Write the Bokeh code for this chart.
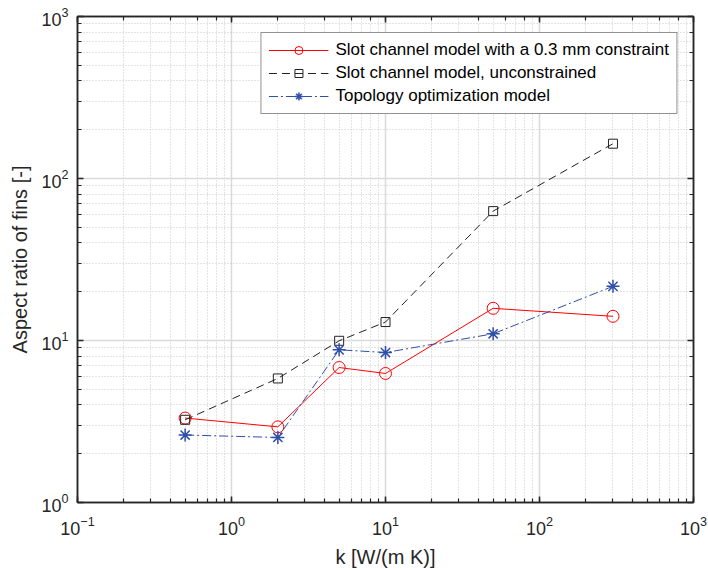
from bokeh.plotting import figure
from bokeh.models import LogAxis, LogTicker
from bokeh.embed import file_html
from bokeh.resources import INLINE

# ---- data ----
k = [0.5, 2, 5, 10, 50, 300]
slot_constrained = [3.32, 2.93, 6.81, 6.26, 15.8, 14.1]
slot_unconstrained = [3.24, 5.83, 9.96, 13.0, 62.9, 164.0]
topology = [2.61, 2.52, 8.76, 8.43, 11.0, 21.6]

label_c = "Slot channel model with a 0.3 mm constraint"
label_u = "Slot channel model, unconstrained"
label_t = "Topology optimization model"

AX = "#262626"
FONT = "Liberation Sans"

p = figure(width=708, height=570, x_axis_type="log", y_axis_type="log",
           x_range=(0.1, 1000), y_range=(1, 1000),
           output_backend="svg", toolbar_location=None,
           min_border_left=77, min_border_right=15, min_border_top=16, min_border_bottom=68,
           x_axis_label="k [W/(m K)]", y_axis_label="Aspect ratio of fins [-]")

p.background_fill_color = "white"
p.outline_line_color = AX
p.outline_line_width = 1.5

for ax in (p.xaxis[0], p.yaxis[0]):
    ax.axis_line_color = AX
    ax.axis_line_width = 1.5
    ax.major_tick_line_color = AX
    ax.minor_tick_line_color = AX
    ax.major_tick_line_width = 1.5
    ax.minor_tick_line_width = 1.2
    ax.major_tick_in = 6
    ax.major_tick_out = 0
    ax.minor_tick_in = 4
    ax.minor_tick_out = 0
    ax.major_label_text_font = FONT
    ax.major_label_text_font_size = "18px"
    ax.major_label_text_color = AX
    ax.axis_label_text_font = FONT
    ax.axis_label_text_font_size = "20px"
    ax.axis_label_text_font_style = "normal"
    ax.axis_label_text_color = AX

p.xaxis.major_label_standoff = 13
p.xaxis.axis_label_standoff = 8
p.yaxis.major_label_standoff = 9
p.yaxis.axis_label_standoff = 7

for loc in ("above", "right"):
    extra = LogAxis(ticker=LogTicker(), axis_line_color=AX, axis_line_width=1.5,
                    major_tick_line_color=AX, minor_tick_line_color=AX,
                    major_tick_line_width=1.5, minor_tick_line_width=1.2,
                    major_tick_in=6, major_tick_out=0, minor_tick_in=4, minor_tick_out=0,
                    major_label_text_font_size="2px", major_label_text_color=None,
                    major_label_standoff=0)
    p.add_layout(extra, loc)

p.xgrid.grid_line_color = "#dadada"
p.ygrid.grid_line_color = "#dadada"
p.xgrid.grid_line_width = 1.5
p.ygrid.grid_line_width = 1.5
for g in (p.xgrid, p.ygrid):
    g.minor_grid_line_color = "#c8c8c8"
    g.minor_grid_line_width = 1
    g.minor_grid_line_dash = "1 2"

RED = "#ff0000"
BLK = "#222222"
BLU = "#2f4fa8"

p.line(k, slot_constrained, line_color=RED, line_width=1, legend_label=label_c)
p.scatter(k, slot_constrained, marker="circle", size=12, fill_color=None,
          line_color=RED, line_width=1, legend_label=label_c)

p.line(k, slot_unconstrained, line_color=BLK, line_width=1, line_dash="8 5", legend_label=label_u)
p.scatter(k, slot_unconstrained, marker="square", size=9, fill_color=None,
          line_color=BLK, line_width=1, legend_label=label_u)

p.line(k, topology, line_color=BLU, line_width=1, line_dash="9 3 2 3", legend_label=label_t)
p.scatter(k, topology, marker="asterisk", size=13,
          line_color=BLU, line_width=1.5, legend_label=label_t)

lg = p.legend[0]
lg.location = "top_right"
lg.margin = 16
lg.padding = 7
lg.spacing = 3
lg.label_height = 20
lg.glyph_height = 20
lg.glyph_width = 60
lg.label_standoff = 7
lg.label_text_font = FONT
lg.label_text_font_size = "17px"
lg.label_text_color = "#000000"
lg.border_line_color = AX
lg.border_line_width = 1
lg.background_fill_color = "white"
lg.background_fill_alpha = 1.0

open("out.html", "w").write(file_html(p, INLINE))
